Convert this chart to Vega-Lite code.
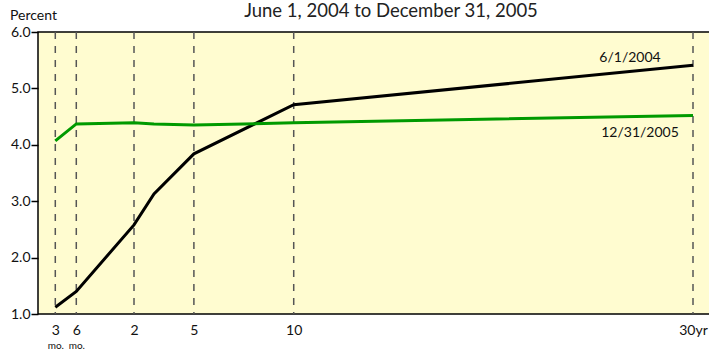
{
  "$schema": "https://vega.github.io/schema/vega-lite/v6.json",
  "width": 672,
  "height": 282,
  "autosize": {"type": "none"},
  "padding": {"left": 38, "top": 32, "right": 0, "bottom": 39},
  "background": "white",
  "title": {"text": "June 1, 2004 to December 31, 2005", "font": "Lato", "fontSize": 18.5, "fontWeight": "normal", "color": "#222222", "anchor": "middle", "dx": 17, "dy": 24, "offset": 12},
  "config": {
    "view": {"fill": "#FFFCD0", "stroke": "black", "strokeWidth": 1.5},
    "font": "Lato"
  },
  "datasets": {
    "maturities": [
      {"maturity": 0.25, "label": "3", "sub": "mo."},
      {"maturity": 0.5, "label": "6", "sub": "mo."},
      {"maturity": 2, "label": "2", "sub": ""},
      {"maturity": 5, "label": "5", "sub": ""},
      {"maturity": 10, "label": "10", "sub": ""},
      {"maturity": 30, "label": "30yr", "sub": ""}
    ],
    "curves": [
      {"date": "6/1/2004", "maturity": 0.25, "rate": 1.12},
      {"date": "6/1/2004", "maturity": 0.5, "rate": 1.40},
      {"date": "6/1/2004", "maturity": 2, "rate": 2.58},
      {"date": "6/1/2004", "maturity": 3, "rate": 3.13},
      {"date": "6/1/2004", "maturity": 5, "rate": 3.84},
      {"date": "6/1/2004", "maturity": 10, "rate": 4.71},
      {"date": "6/1/2004", "maturity": 30, "rate": 5.41},
      {"date": "12/31/2005", "maturity": 0.25, "rate": 4.07},
      {"date": "12/31/2005", "maturity": 0.5, "rate": 4.37},
      {"date": "12/31/2005", "maturity": 2, "rate": 4.39},
      {"date": "12/31/2005", "maturity": 3, "rate": 4.37},
      {"date": "12/31/2005", "maturity": 5, "rate": 4.35},
      {"date": "12/31/2005", "maturity": 10, "rate": 4.39},
      {"date": "12/31/2005", "maturity": 30, "rate": 4.52}
    ]
  },
  "layer": [
    {
      "data": {"name": "maturities"},
      "mark": {"type": "rule", "strokeDash": [7, 7], "color": "#555555", "strokeWidth": 1.5},
      "encoding": {
        "x": {
          "field": "maturity", "type": "quantitative",
          "scale": {"domain": [0.25, 0.5, 2, 30], "range": [17.3, 38.3, 96, 655], "zero": false, "nice": false},
          "axis": {
            "orient": "bottom", "values": [0.25, 0.5, 2, 5, 10, 30],
            "labelExpr": "datum.value == 0.25 ? '3' : datum.value == 0.5 ? '6' : datum.value == 30 ? '30yr' : datum.value + ''",
            "domain": false, "ticks": false, "grid": false, "title": null,
            "labelFontSize": 14, "labelColor": "#111111", "labelPadding": 9, "labelFont": "Lato",
            "labelOverlap": false, "labelBound": false, "labelFlush": false
          }
        }
      }
    },
    {
      "data": {"name": "maturities"},
      "mark": {"type": "rule", "opacity": 0},
      "encoding": {
        "x": {
          "field": "maturity", "type": "quantitative",
          "axis": {
            "orient": "bottom", "values": [0.25, 0.5],
            "labelExpr": "'mo.'",
            "domain": false, "ticks": false, "grid": false, "title": null,
            "labelFontSize": 10, "labelColor": "#111111", "labelPadding": 26, "labelFont": "Lato",
            "labelOverlap": false, "labelBound": false, "labelFlush": false
          }
        }
      }
    },
    {
      "data": {"name": "curves"},
      "mark": {"type": "line", "strokeWidth": 3},
      "encoding": {
        "x": {"field": "maturity", "type": "quantitative", "axis": null},
        "y": {
          "field": "rate", "type": "quantitative",
          "scale": {"domain": [1, 6], "zero": false, "nice": false},
          "axis": {
            "values": [1, 2, 3, 4, 5, 6], "format": ".1f", "grid": false, "domain": false,
            "tickSize": 7, "tickColor": "black", "tickWidth": 1.5, "labelPadding": 1,
            "labelFontSize": 14, "labelColor": "#111111", "labelFont": "Lato",
            "title": "Percent", "titleAngle": 0, "titleX": -5, "titleY": -13,
            "titleAlign": "center", "titleBaseline": "alphabetic",
            "titleFontSize": 14, "titleFontWeight": "normal", "titleColor": "#111111", "titleFont": "Lato"
          }
        },
        "color": {"field": "date", "type": "nominal", "scale": {"domain": ["6/1/2004", "12/31/2005"], "range": ["#000000", "#009A00"]}, "legend": null}
      }
    },
    {
      "data": {"name": "curves"},
      "transform": [{"filter": "datum.maturity == 30 && datum.date == '6/1/2004'"}],
      "mark": {"type": "text", "fontSize": 14, "font": "Lato", "color": "#111111", "dx": -63, "dy": -3, "baseline": "alphabetic", "align": "center"},
      "encoding": {
        "x": {"field": "maturity", "type": "quantitative", "axis": null},
        "y": {"field": "rate", "type": "quantitative"},
        "text": {"field": "date"}
      }
    },
    {
      "data": {"name": "curves"},
      "transform": [{"filter": "datum.maturity == 30 && datum.date == '12/31/2005'"}],
      "mark": {"type": "text", "fontSize": 14, "font": "Lato", "color": "#111111", "dx": -53, "dy": 22, "baseline": "alphabetic", "align": "center"},
      "encoding": {
        "x": {"field": "maturity", "type": "quantitative", "axis": null},
        "y": {"field": "rate", "type": "quantitative"},
        "text": {"field": "date"}
      }
    }
  ],
  "resolve": {"axis": {"x": "independent"}}
}
